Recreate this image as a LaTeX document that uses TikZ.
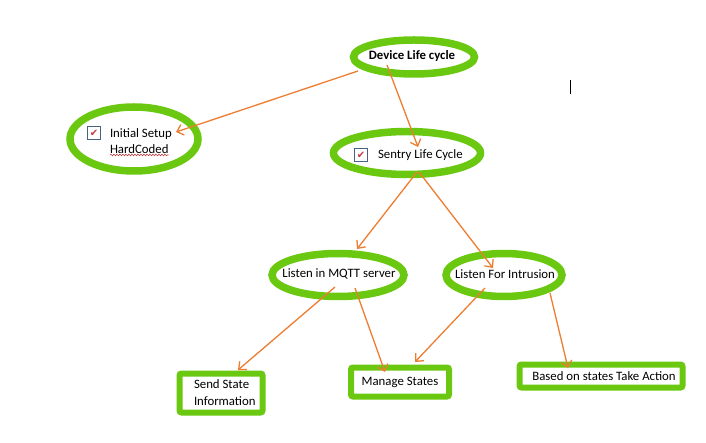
\documentclass[tikz,border=0pt]{standalone}
\usepackage{fontspec}
\setmainfont{Carlito}
\newfontfamily\symfont{DejaVu Sans}
\usetikzlibrary{positioning, shapes.geometric, arrows.meta, decorations.pathmorphing}
\definecolor{mygreen}{RGB}{106,200,16}
\definecolor{myorange}{RGB}{237,125,49}
\definecolor{myred}{RGB}{192,60,60}
\definecolor{mybox}{RGB}{70,100,130}
\tikzset{
  oval/.style={ellipse, draw=mygreen, line width=7.5, inner sep=0, outer sep=0},
  block/.style={rectangle, rounded corners=2, draw=mygreen, line width=6,
    inner sep=0, outer sep=0},
  txt/.style={inner sep=0, outer sep=0, font=\fontsize{12.8}{17}\selectfont, align=left},
  chkbox/.style={draw=mybox, line width=1, minimum size=13, inner sep=0,
    text=myred, font=\symfont\fontsize{10}{10}\selectfont},
  link/.style={-{Straight Barb[length=6,width=11]}, draw=myorange, line width=1.3}
}
\begin{document}
\begin{tikzpicture}[x=1pt,y=-1pt]
\useasboundingbox (0,0) rectangle (706,443);

\node [oval, minimum width=121, minimum height=34] (dev) at (414,57) {};
\node [txt, font=\fontsize{12.8}{17}\selectfont\bfseries] (devtxt) at (412,56) {Device Life cycle};

\node [oval, minimum width=128, minimum height=64] (init) at (134,139) {};
\node [txt, anchor=west] (inittxt) at (110,134) {Initial Setup};
\node [txt, anchor=west] (hctxt) at (110,149) {HardCoded};
\node [chkbox] (initchk) at (94,133) {✔};
\draw [myred, line width=0.6, decorate, decoration={snake, amplitude=0.8, segment length=3}]
  ([yshift=-1.5]hctxt.south west) -- ([yshift=-1.5]hctxt.south east);

\node [oval, minimum width=147, minimum height=43] (sentry) at (407,153) {};
\node [txt, anchor=west] (sentrytxt) at (378,155) {Sentry Life Cycle};
\node [chkbox, left=10 of sentrytxt] (sentrychk) {✔};

\node [oval, minimum width=132, minimum height=43] (mqtt) at (338,275) {};
\node [txt] (mqtttxt) at (339,274) {Listen in MQTT server};

\node [oval, minimum width=116, minimum height=43] (intr) at (504,275) {};
\node [txt] (intrtxt) at (505,274) {Listen For Intrusion};

\node [block, minimum width=83, minimum height=39] (send) at (221,393) {};
\node [txt, anchor=west] (sendtxt) at (194,393) {Send State\\Information};

\node [block, minimum width=98, minimum height=29] (manage) at (400,382) {};
\node [txt] (managetxt) at (400,382) {Manage States};

\node [block, minimum width=163, minimum height=23] (action) at (601,376) {};
\node [txt] (actiontxt) at (604,376) {Based on states Take Action};

% connectors
\draw [link] ([shift={(-56,14)}]dev.center) -- ([shift={(42,-7)}]init.center);
\draw [link] ([shift={(-27,8)}]dev.center) -- ([shift={(11,-6)}]sentry.center);
\draw [link] ([shift={(10,19)}]sentry.center) -- ([shift={(19,-26)}]mqtt.center);
\draw [link] ([shift={(12,19)}]sentry.center) -- ([shift={(-11,-7)}]intr.center);
\draw [link] ([shift={(-3,12)}]mqtt.center) -- ([shift={(17,-23)}]send.center);
\draw [link] ([shift={(17,13)}]mqtt.center) -- ([shift={(-15,-10)}]manage.center);
\draw [link] ([shift={(-19,13)}]intr.center) -- ([shift={(15,-20)}]manage.center);
\draw [link] ([shift={(46,18)}]intr.center) -- ([shift={(-33,-8)}]action.center);

% text cursor
\draw [black, line width=1] (570,80) -- (570,94);
\end{tikzpicture}
\end{document}
